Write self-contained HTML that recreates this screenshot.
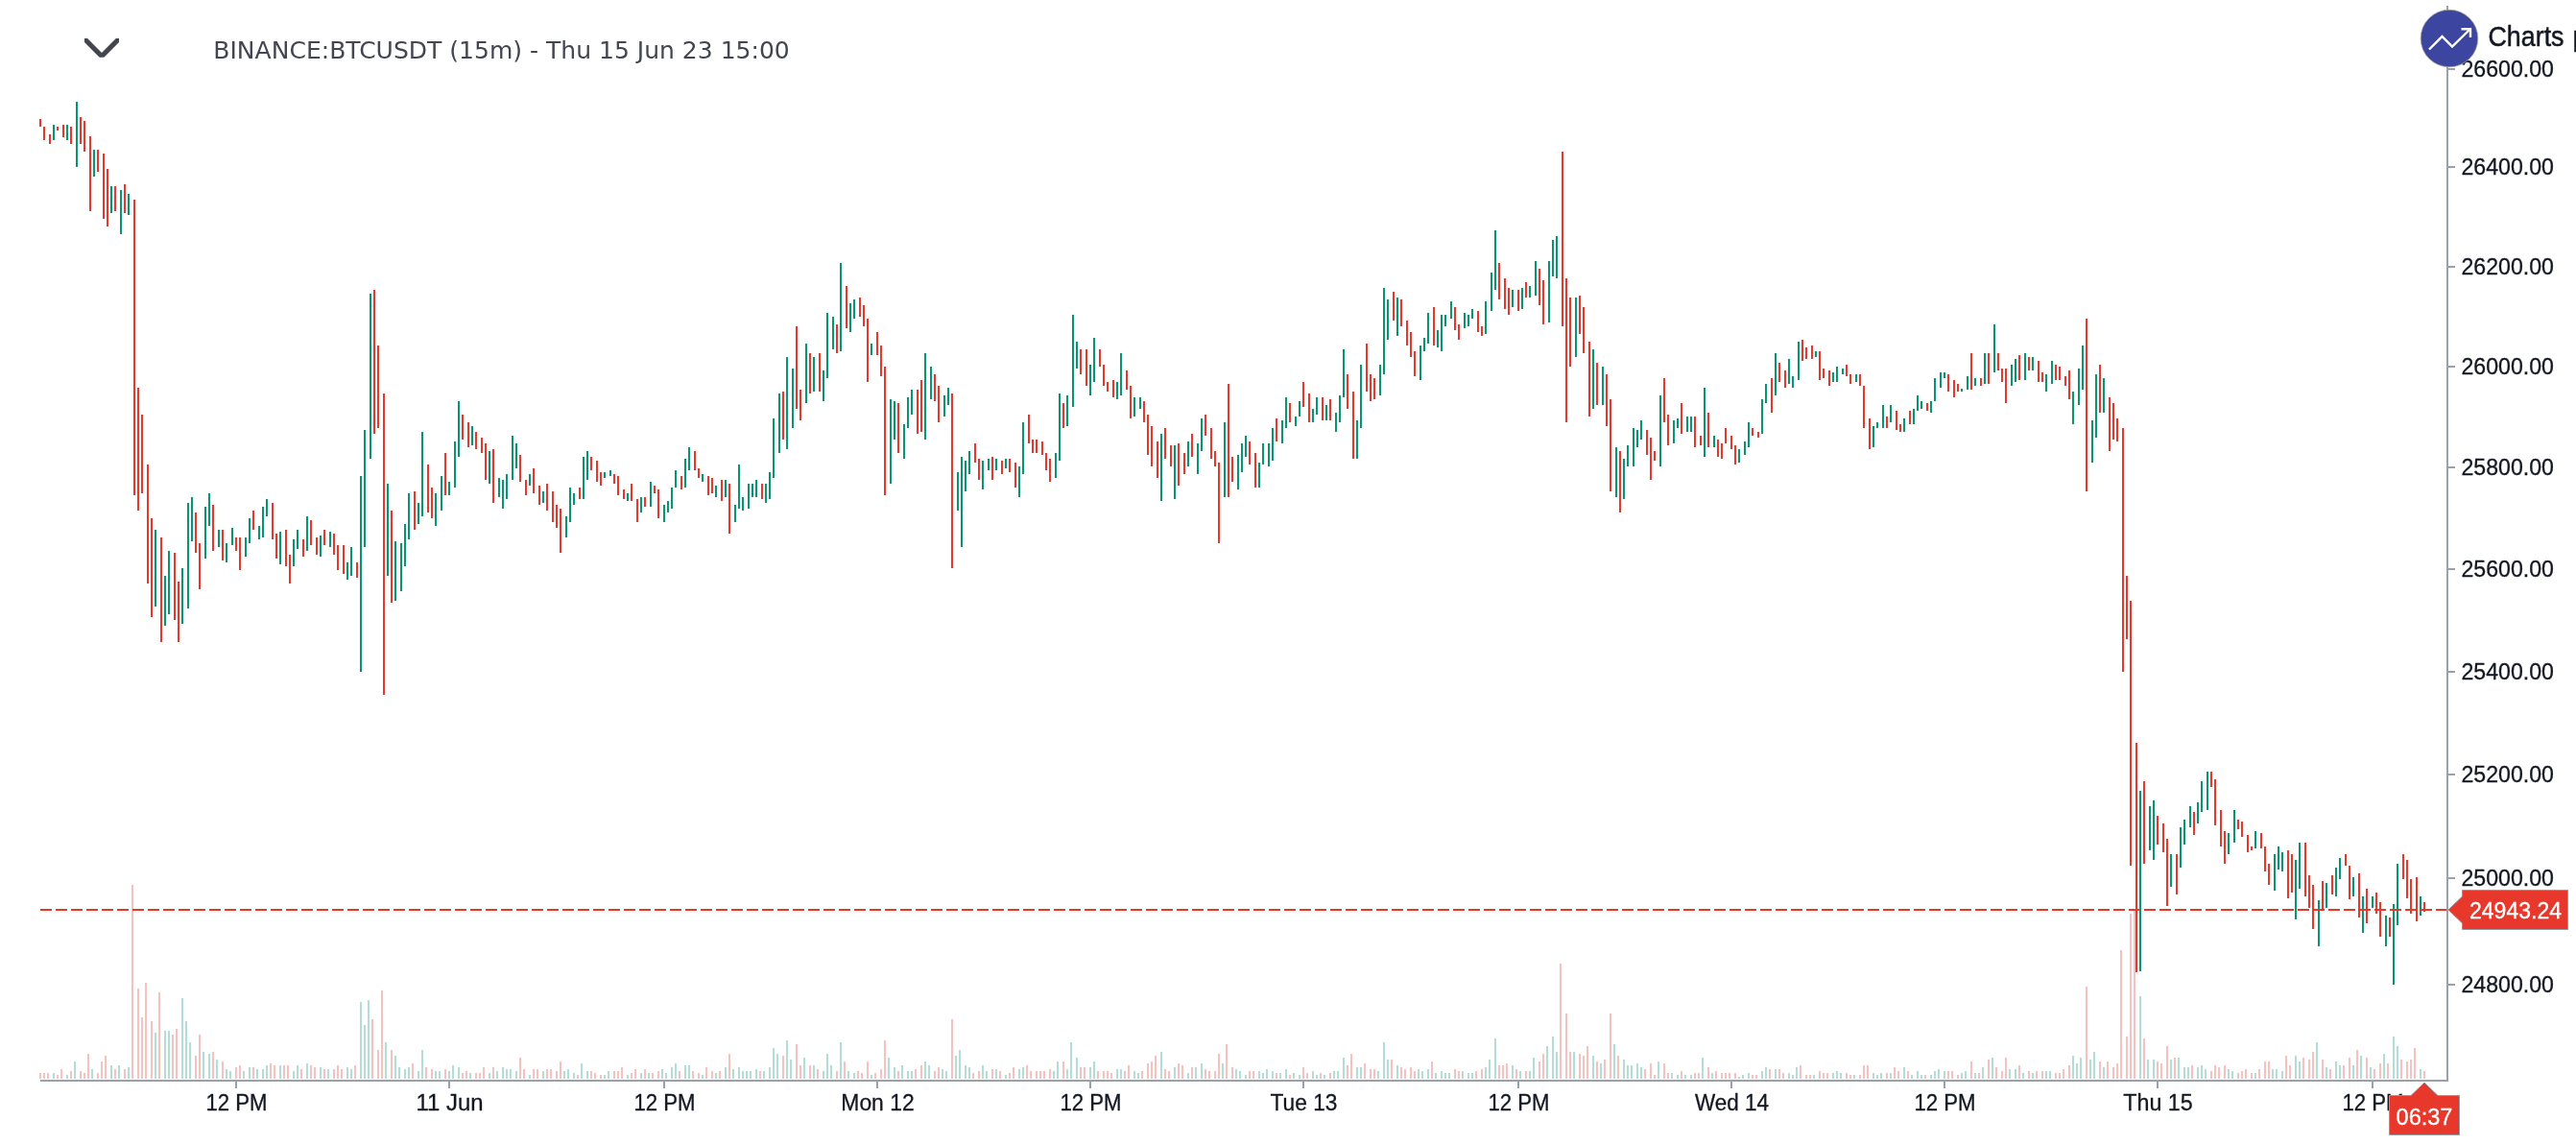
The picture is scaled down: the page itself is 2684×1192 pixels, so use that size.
<!DOCTYPE html>
<html><head><meta charset="utf-8"><title>BINANCE:BTCUSDT (15m)</title>
<style>
html,body{margin:0;padding:0;background:#fff;}
body{width:2684px;height:1192px;overflow:hidden;position:relative;}
svg{position:absolute;left:0;top:0;display:block;will-change:transform;}
.ax{font-family:"Liberation Sans",Arial,sans-serif;font-size:23.5px;fill:#131722;stroke:#131722;stroke-width:0.3px;}
.axw{font-family:"Liberation Sans",Arial,sans-serif;font-size:23.5px;fill:#fff;stroke:#fff;stroke-width:0.3px;}
.tt{font-family:"DejaVu Sans",Verdana,sans-serif;font-size:24px;fill:#434651;}
.lg{font-family:"Liberation Sans",Arial,sans-serif;font-size:29.3px;fill:#131722;stroke:#131722;stroke-width:0.5px;}
</style></head>
<body>
<svg width="2684" height="1192" viewBox="0 0 2684 1192" >
<path shape-rendering="crispEdges" fill="#f6c2c0" d="M41 1118h2v6h-2zM45 1118h2v6h-2zM49 1118h2v6h-2zM59 1120h2v4h-2zM63 1114h2v10h-2zM73 1116h2v8h-2zM83 1116h2v8h-2zM87 1118h2v6h-2zM91 1098h2v26h-2zM101 1118h2v6h-2zM105 1106h2v18h-2zM109 1100h2v24h-2zM119 1114h2v10h-2zM129 1114h2v10h-2zM137 922h2v202h-2zM143 1030h2v94h-2zM147 1060h2v64h-2zM151 1024h2v100h-2zM157 1064h2v60h-2zM165 1034h2v90h-2zM179 1078h2v46h-2zM183 1072h2v52h-2zM203 1100h2v24h-2zM207 1078h2v46h-2zM221 1096h2v28h-2zM231 1106h2v18h-2zM245 1112h2v12h-2zM249 1110h2v14h-2zM263 1112h2v12h-2zM281 1108h2v16h-2zM285 1110h2v14h-2zM295 1110h2v14h-2zM299 1110h2v14h-2zM313 1114h2v10h-2zM323 1110h2v14h-2zM327 1112h2v12h-2zM337 1114h2v10h-2zM347 1114h2v10h-2zM351 1110h2v14h-2zM355 1114h2v10h-2zM369 1110h2v14h-2zM387 1062h2v62h-2zM393 1094h2v30h-2zM397 1032h2v92h-2zM407 1094h2v30h-2zM429 1108h2v16h-2zM443 1112h2v12h-2zM449 1114h2v10h-2zM463 1114h2v10h-2zM481 1118h2v6h-2zM485 1116h2v8h-2zM495 1118h2v6h-2zM499 1118h2v6h-2zM503 1112h2v12h-2zM513 1112h2v12h-2zM541 1102h2v22h-2zM545 1114h2v10h-2zM555 1114h2v10h-2zM559 1114h2v10h-2zM569 1114h2v10h-2zM573 1114h2v10h-2zM579 1116h2v8h-2zM583 1106h2v18h-2zM601 1120h2v4h-2zM615 1116h2v8h-2zM619 1118h2v6h-2zM625 1120h2v4h-2zM639 1116h2v8h-2zM643 1116h2v8h-2zM647 1112h2v12h-2zM657 1118h2v6h-2zM661 1114h2v10h-2zM671 1114h2v10h-2zM679 1118h2v6h-2zM685 1116h2v8h-2zM707 1116h2v8h-2zM721 1116h2v8h-2zM727 1118h2v6h-2zM735 1112h2v12h-2zM741 1116h2v8h-2zM749 1116h2v8h-2zM759 1098h2v26h-2zM791 1116h2v8h-2zM815 1100h2v24h-2zM829 1088h2v36h-2zM833 1110h2v14h-2zM843 1110h2v14h-2zM851 1114h2v10h-2zM871 1116h2v8h-2zM879 1106h2v18h-2zM893 1116h2v8h-2zM897 1118h2v6h-2zM903 1106h2v18h-2zM911 1118h2v6h-2zM917 1114h2v10h-2zM921 1084h2v40h-2zM935 1116h2v8h-2zM953 1114h2v10h-2zM959 1110h2v14h-2zM973 1116h2v8h-2zM977 1112h2v12h-2zM991 1062h2v62h-2zM1013 1118h2v6h-2zM1019 1116h2v8h-2zM1033 1114h2v10h-2zM1041 1116h2v8h-2zM1051 1118h2v6h-2zM1055 1112h2v12h-2zM1069 1110h2v14h-2zM1073 1116h2v8h-2zM1079 1116h2v8h-2zM1083 1116h2v8h-2zM1087 1116h2v8h-2zM1093 1114h2v10h-2zM1107 1106h2v18h-2zM1125 1112h2v12h-2zM1129 1112h2v12h-2zM1143 1116h2v8h-2zM1149 1116h2v8h-2zM1153 1116h2v8h-2zM1157 1118h2v6h-2zM1171 1116h2v8h-2zM1175 1110h2v14h-2zM1189 1116h2v8h-2zM1195 1108h2v16h-2zM1199 1106h2v18h-2zM1203 1100h2v24h-2zM1213 1114h2v10h-2zM1217 1116h2v8h-2zM1227 1108h2v16h-2zM1231 1110h2v14h-2zM1241 1112h2v12h-2zM1255 1114h2v10h-2zM1259 1116h2v8h-2zM1265 1116h2v8h-2zM1269 1098h2v26h-2zM1277 1088h2v36h-2zM1283 1112h2v12h-2zM1301 1116h2v8h-2zM1305 1116h2v8h-2zM1329 1118h2v6h-2zM1343 1120h2v4h-2zM1357 1112h2v12h-2zM1361 1118h2v6h-2zM1375 1118h2v6h-2zM1385 1118h2v6h-2zM1403 1110h2v14h-2zM1407 1098h2v26h-2zM1421 1108h2v16h-2zM1427 1114h2v10h-2zM1431 1114h2v10h-2zM1449 1104h2v20h-2zM1459 1112h2v12h-2zM1463 1114h2v10h-2zM1469 1112h2v12h-2zM1473 1116h2v8h-2zM1491 1106h2v18h-2zM1515 1114h2v10h-2zM1519 1116h2v8h-2zM1537 1116h2v8h-2zM1543 1114h2v10h-2zM1561 1110h2v14h-2zM1565 1110h2v14h-2zM1569 1108h2v16h-2zM1579 1114h2v10h-2zM1589 1116h2v8h-2zM1603 1106h2v18h-2zM1607 1098h2v26h-2zM1625 1004h2v120h-2zM1631 1056h2v68h-2zM1635 1096h2v28h-2zM1645 1098h2v26h-2zM1649 1100h2v24h-2zM1653 1090h2v34h-2zM1663 1106h2v18h-2zM1671 1104h2v20h-2zM1677 1056h2v68h-2zM1685 1100h2v24h-2zM1713 1114h2v10h-2zM1719 1108h2v16h-2zM1723 1120h2v4h-2zM1733 1108h2v16h-2zM1737 1118h2v6h-2zM1751 1116h2v8h-2zM1765 1118h2v6h-2zM1769 1118h2v6h-2zM1779 1112h2v12h-2zM1787 1116h2v8h-2zM1793 1118h2v6h-2zM1797 1118h2v6h-2zM1801 1118h2v6h-2zM1807 1118h2v6h-2zM1825 1120h2v4h-2zM1829 1120h2v4h-2zM1843 1114h2v10h-2zM1853 1114h2v10h-2zM1857 1118h2v6h-2zM1875 1110h2v14h-2zM1881 1120h2v4h-2zM1885 1120h2v4h-2zM1895 1116h2v8h-2zM1899 1118h2v6h-2zM1903 1118h2v6h-2zM1923 1118h2v6h-2zM1927 1120h2v4h-2zM1937 1120h2v4h-2zM1941 1110h2v14h-2zM1945 1110h2v14h-2zM1965 1118h2v6h-2zM1973 1112h2v12h-2zM1977 1116h2v8h-2zM1987 1116h2v8h-2zM2005 1120h2v4h-2zM2029 1116h2v8h-2zM2033 1116h2v8h-2zM2039 1120h2v4h-2zM2053 1106h2v18h-2zM2061 1118h2v6h-2zM2071 1104h2v20h-2zM2079 1112h2v12h-2zM2085 1116h2v8h-2zM2089 1102h2v22h-2zM2103 1110h2v14h-2zM2113 1116h2v8h-2zM2121 1116h2v8h-2zM2127 1116h2v8h-2zM2141 1118h2v6h-2zM2145 1118h2v6h-2zM2149 1114h2v10h-2zM2155 1110h2v14h-2zM2173 1028h2v96h-2zM2187 1106h2v18h-2zM2195 1106h2v18h-2zM2201 1112h2v12h-2zM2205 1108h2v16h-2zM2209 990h2v134h-2zM2215 1080h2v44h-2zM2219 952h2v172h-2zM2223 949h2v175h-2zM2233 1082h2v42h-2zM2247 1106h2v18h-2zM2251 1108h2v16h-2zM2257 1090h2v34h-2zM2265 1102h2v22h-2zM2283 1110h2v14h-2zM2303 1116h2v8h-2zM2307 1110h2v14h-2zM2311 1112h2v12h-2zM2317 1110h2v14h-2zM2331 1118h2v6h-2zM2335 1116h2v8h-2zM2339 1114h2v10h-2zM2345 1118h2v6h-2zM2353 1114h2v10h-2zM2359 1106h2v18h-2zM2363 1106h2v18h-2zM2381 1100h2v24h-2zM2385 1110h2v14h-2zM2399 1102h2v22h-2zM2405 1104h2v20h-2zM2409 1096h2v28h-2zM2419 1104h2v20h-2zM2427 1114h2v10h-2zM2441 1110h2v14h-2zM2447 1102h2v22h-2zM2455 1094h2v30h-2zM2465 1102h2v22h-2zM2473 1114h2v10h-2zM2479 1108h2v16h-2zM2487 1108h2v16h-2zM2501 1104h2v20h-2zM2507 1106h2v18h-2zM2511 1104h2v20h-2zM2515 1092h2v32h-2zM2525 1116h2v8h-2z"/>
<path shape-rendering="crispEdges" fill="#b3ded5" d="M55 1118h2v6h-2zM69 1120h2v4h-2zM77 1106h2v18h-2zM95 1114h2v10h-2zM115 1110h2v14h-2zM123 1110h2v14h-2zM133 1112h2v12h-2zM161 1076h2v48h-2zM171 1074h2v50h-2zM175 1074h2v50h-2zM189 1040h2v84h-2zM193 1064h2v60h-2zM197 1086h2v38h-2zM211 1096h2v28h-2zM217 1098h2v26h-2zM225 1104h2v20h-2zM235 1114h2v10h-2zM239 1116h2v8h-2zM253 1116h2v8h-2zM259 1112h2v12h-2zM267 1114h2v10h-2zM273 1114h2v10h-2zM277 1110h2v14h-2zM291 1110h2v14h-2zM305 1116h2v8h-2zM309 1110h2v14h-2zM319 1108h2v16h-2zM333 1112h2v12h-2zM341 1114h2v10h-2zM361 1112h2v12h-2zM365 1114h2v10h-2zM375 1044h2v80h-2zM379 1068h2v56h-2zM383 1042h2v82h-2zM401 1086h2v38h-2zM411 1100h2v24h-2zM415 1112h2v12h-2zM421 1114h2v10h-2zM425 1112h2v12h-2zM435 1116h2v8h-2zM439 1094h2v30h-2zM453 1116h2v8h-2zM457 1116h2v8h-2zM467 1116h2v8h-2zM471 1110h2v14h-2zM477 1112h2v12h-2zM489 1118h2v6h-2zM509 1118h2v6h-2zM517 1116h2v8h-2zM523 1112h2v12h-2zM527 1114h2v10h-2zM531 1114h2v10h-2zM537 1116h2v8h-2zM551 1120h2v4h-2zM565 1116h2v8h-2zM587 1116h2v8h-2zM591 1114h2v10h-2zM597 1118h2v6h-2zM605 1108h2v16h-2zM611 1116h2v8h-2zM629 1120h2v4h-2zM633 1116h2v8h-2zM653 1120h2v4h-2zM667 1118h2v6h-2zM675 1118h2v6h-2zM689 1114h2v10h-2zM693 1118h2v6h-2zM699 1112h2v12h-2zM703 1108h2v16h-2zM713 1110h2v14h-2zM717 1110h2v14h-2zM731 1120h2v4h-2zM745 1118h2v6h-2zM755 1112h2v12h-2zM763 1114h2v10h-2zM769 1112h2v12h-2zM773 1116h2v8h-2zM777 1116h2v8h-2zM781 1116h2v8h-2zM787 1114h2v10h-2zM795 1116h2v8h-2zM801 1112h2v12h-2zM805 1092h2v32h-2zM809 1098h2v26h-2zM819 1084h2v40h-2zM823 1104h2v20h-2zM837 1102h2v22h-2zM847 1110h2v14h-2zM857 1116h2v8h-2zM861 1098h2v26h-2zM865 1110h2v14h-2zM875 1086h2v38h-2zM883 1116h2v8h-2zM889 1118h2v6h-2zM907 1120h2v4h-2zM925 1102h2v22h-2zM931 1112h2v12h-2zM939 1110h2v14h-2zM945 1116h2v8h-2zM949 1116h2v8h-2zM963 1106h2v18h-2zM967 1110h2v14h-2zM981 1114h2v10h-2zM985 1116h2v8h-2zM995 1100h2v24h-2zM999 1094h2v30h-2zM1005 1110h2v14h-2zM1009 1112h2v12h-2zM1023 1110h2v14h-2zM1027 1116h2v8h-2zM1037 1114h2v10h-2zM1047 1120h2v4h-2zM1061 1114h2v10h-2zM1065 1112h2v12h-2zM1097 1116h2v8h-2zM1101 1106h2v18h-2zM1111 1114h2v10h-2zM1115 1086h2v38h-2zM1121 1102h2v22h-2zM1135 1112h2v12h-2zM1139 1106h2v18h-2zM1163 1114h2v10h-2zM1167 1114h2v10h-2zM1181 1116h2v8h-2zM1185 1118h2v6h-2zM1209 1096h2v28h-2zM1223 1112h2v12h-2zM1237 1118h2v6h-2zM1245 1112h2v12h-2zM1251 1108h2v16h-2zM1273 1108h2v16h-2zM1287 1114h2v10h-2zM1291 1116h2v8h-2zM1297 1120h2v4h-2zM1311 1116h2v8h-2zM1315 1118h2v6h-2zM1319 1114h2v10h-2zM1325 1116h2v8h-2zM1333 1118h2v6h-2zM1339 1114h2v10h-2zM1347 1118h2v6h-2zM1353 1120h2v4h-2zM1367 1116h2v8h-2zM1371 1120h2v4h-2zM1379 1120h2v4h-2zM1389 1116h2v8h-2zM1393 1116h2v8h-2zM1399 1102h2v22h-2zM1413 1112h2v12h-2zM1417 1112h2v12h-2zM1435 1116h2v8h-2zM1441 1086h2v38h-2zM1445 1104h2v20h-2zM1455 1110h2v14h-2zM1477 1114h2v10h-2zM1481 1116h2v8h-2zM1487 1114h2v10h-2zM1495 1118h2v6h-2zM1501 1116h2v8h-2zM1505 1118h2v6h-2zM1509 1118h2v6h-2zM1523 1116h2v8h-2zM1529 1118h2v6h-2zM1533 1118h2v6h-2zM1547 1112h2v12h-2zM1551 1104h2v20h-2zM1557 1082h2v42h-2zM1575 1110h2v14h-2zM1583 1116h2v8h-2zM1593 1116h2v8h-2zM1597 1102h2v22h-2zM1611 1090h2v34h-2zM1617 1080h2v44h-2zM1621 1096h2v28h-2zM1639 1096h2v28h-2zM1659 1100h2v24h-2zM1667 1108h2v16h-2zM1681 1088h2v36h-2zM1691 1104h2v20h-2zM1695 1110h2v14h-2zM1699 1110h2v14h-2zM1705 1108h2v16h-2zM1709 1112h2v12h-2zM1727 1106h2v18h-2zM1741 1118h2v6h-2zM1747 1120h2v4h-2zM1755 1120h2v4h-2zM1761 1120h2v4h-2zM1773 1102h2v22h-2zM1783 1118h2v6h-2zM1811 1122h2v2h-2zM1815 1120h2v4h-2zM1821 1118h2v6h-2zM1835 1116h2v8h-2zM1839 1112h2v12h-2zM1849 1114h2v10h-2zM1863 1118h2v6h-2zM1867 1120h2v4h-2zM1871 1112h2v12h-2zM1889 1120h2v4h-2zM1909 1118h2v6h-2zM1913 1116h2v8h-2zM1917 1118h2v6h-2zM1931 1120h2v4h-2zM1951 1118h2v6h-2zM1955 1120h2v4h-2zM1959 1118h2v6h-2zM1969 1118h2v6h-2zM1983 1112h2v12h-2zM1991 1120h2v4h-2zM1997 1116h2v8h-2zM2001 1120h2v4h-2zM2011 1120h2v4h-2zM2015 1116h2v8h-2zM2019 1114h2v10h-2zM2025 1116h2v8h-2zM2043 1118h2v6h-2zM2047 1116h2v8h-2zM2057 1118h2v6h-2zM2065 1112h2v12h-2zM2075 1102h2v22h-2zM2093 1114h2v10h-2zM2099 1114h2v10h-2zM2107 1118h2v6h-2zM2117 1118h2v6h-2zM2131 1116h2v8h-2zM2135 1116h2v8h-2zM2159 1100h2v24h-2zM2163 1108h2v16h-2zM2167 1102h2v22h-2zM2177 1104h2v20h-2zM2181 1096h2v28h-2zM2191 1112h2v12h-2zM2229 1038h2v86h-2zM2237 1104h2v20h-2zM2243 1104h2v20h-2zM2261 1104h2v20h-2zM2269 1102h2v22h-2zM2275 1112h2v12h-2zM2279 1112h2v12h-2zM2289 1112h2v12h-2zM2293 1110h2v14h-2zM2297 1114h2v10h-2zM2321 1114h2v10h-2zM2325 1116h2v8h-2zM2349 1118h2v6h-2zM2367 1114h2v10h-2zM2371 1114h2v10h-2zM2377 1116h2v8h-2zM2391 1100h2v24h-2zM2395 1106h2v18h-2zM2413 1086h2v38h-2zM2423 1112h2v12h-2zM2433 1106h2v18h-2zM2437 1110h2v14h-2zM2451 1110h2v14h-2zM2459 1100h2v24h-2zM2469 1112h2v12h-2zM2483 1098h2v26h-2zM2493 1080h2v44h-2zM2497 1090h2v34h-2zM2521 1114h2v10h-2z"/>
<path shape-rendering="crispEdges" fill="#e8382b" d="M41 124h2v8h-2zM45 132h2v14h-2zM51 140h2v10h-2zM59 132h2v4h-2zM65 130h2v13h-2zM73 132h2v18h-2zM83 122h2v28h-2zM87 126h2v32h-2zM93 142h2v78h-2zM101 156h2v23h-2zM107 160h2v68h-2zM111 176h2v60h-2zM119 194h2v26h-2zM129 192h2v30h-2zM139 208h2v308h-2zM143 404h2v128h-2zM147 432h2v82h-2zM153 484h2v124h-2zM157 540h2v103h-2zM167 560h2v109h-2zM181 576h2v70h-2zM185 606h2v63h-2zM203 534h2v42h-2zM207 566h2v48h-2zM221 526h2v48h-2zM231 552h2v32h-2zM245 560h2v14h-2zM249 560h2v34h-2zM263 532h2v20h-2zM283 524h2v38h-2zM287 556h2v26h-2zM297 552h2v38h-2zM301 578h2v30h-2zM315 562h2v18h-2zM323 542h2v26h-2zM329 560h2v18h-2zM337 552h2v16h-2zM347 556h2v22h-2zM351 568h2v26h-2zM357 568h2v30h-2zM371 586h2v16h-2zM389 302h2v150h-2zM393 360h2v86h-2zM399 410h2v314h-2zM407 532h2v96h-2zM431 512h2v40h-2zM445 484h2v50h-2zM449 508h2v32h-2zM463 472h2v44h-2zM481 432h2v26h-2zM487 440h2v26h-2zM495 450h2v18h-2zM501 456h2v16h-2zM505 462h2v38h-2zM513 468h2v56h-2zM541 474h2v28h-2zM547 500h2v16h-2zM555 488h2v26h-2zM561 506h2v20h-2zM569 504h2v28h-2zM575 512h2v32h-2zM579 526h2v24h-2zM583 530h2v46h-2zM603 508h2v12h-2zM615 476h2v14h-2zM621 480h2v22h-2zM625 492h2v14h-2zM639 494h2v10h-2zM643 496h2v20h-2zM649 510h2v10h-2zM657 504h2v18h-2zM663 520h2v24h-2zM671 518h2v10h-2zM681 506h2v8h-2zM685 510h2v30h-2zM709 496h2v14h-2zM723 470h2v20h-2zM727 488h2v10h-2zM737 496h2v20h-2zM741 498h2v16h-2zM751 500h2v22h-2zM759 504h2v52h-2zM793 504h2v16h-2zM815 408h2v50h-2zM829 340h2v86h-2zM833 406h2v32h-2zM843 368h2v42h-2zM853 368h2v40h-2zM871 338h2v30h-2zM881 298h2v44h-2zM895 310h2v20h-2zM899 318h2v22h-2zM903 332h2v66h-2zM913 346h2v24h-2zM917 360h2v32h-2zM921 382h2v134h-2zM935 420h2v52h-2zM955 406h2v46h-2zM959 396h2v54h-2zM973 390h2v28h-2zM977 402h2v38h-2zM991 410h2v182h-2zM1015 462h2v20h-2zM1019 478h2v22h-2zM1033 476h2v24h-2zM1043 480h2v14h-2zM1051 478h2v14h-2zM1057 482h2v26h-2zM1071 432h2v30h-2zM1075 458h2v14h-2zM1079 458h2v14h-2zM1085 460h2v14h-2zM1089 472h2v18h-2zM1093 478h2v24h-2zM1107 420h2v26h-2zM1125 364h2v26h-2zM1131 364h2v38h-2zM1145 364h2v18h-2zM1149 380h2v22h-2zM1153 398h2v10h-2zM1159 396h2v18h-2zM1173 386h2v20h-2zM1177 402h2v34h-2zM1191 418h2v22h-2zM1195 432h2v42h-2zM1199 444h2v42h-2zM1205 460h2v38h-2zM1213 446h2v32h-2zM1219 464h2v22h-2zM1227 462h2v44h-2zM1233 472h2v22h-2zM1241 452h2v24h-2zM1255 432h2v22h-2zM1261 446h2v32h-2zM1265 470h2v16h-2zM1269 482h2v84h-2zM1279 400h2v118h-2zM1283 476h2v26h-2zM1301 460h2v24h-2zM1307 472h2v36h-2zM1329 436h2v24h-2zM1343 420h2v20h-2zM1357 398h2v26h-2zM1363 410h2v30h-2zM1377 414h2v24h-2zM1385 416h2v22h-2zM1403 390h2v36h-2zM1409 408h2v70h-2zM1423 358h2v50h-2zM1427 390h2v28h-2zM1431 394h2v22h-2zM1451 304h2v30h-2zM1459 312h2v28h-2zM1465 334h2v26h-2zM1469 346h2v26h-2zM1473 366h2v26h-2zM1493 320h2v40h-2zM1515 320h2v24h-2zM1519 338h2v16h-2zM1539 324h2v22h-2zM1543 340h2v10h-2zM1561 274h2v38h-2zM1567 290h2v32h-2zM1571 300h2v28h-2zM1581 302h2v22h-2zM1589 294h2v16h-2zM1603 280h2v38h-2zM1607 292h2v46h-2zM1627 158h2v182h-2zM1631 290h2v150h-2zM1635 310h2v72h-2zM1645 308h2v40h-2zM1649 320h2v48h-2zM1655 356h2v78h-2zM1663 378h2v44h-2zM1673 390h2v54h-2zM1677 416h2v96h-2zM1687 470h2v64h-2zM1715 448h2v26h-2zM1719 456h2v44h-2zM1723 470h2v10h-2zM1733 394h2v46h-2zM1737 432h2v32h-2zM1751 420h2v32h-2zM1765 434h2v32h-2zM1771 454h2v10h-2zM1779 430h2v36h-2zM1789 458h2v18h-2zM1793 462h2v16h-2zM1797 446h2v16h-2zM1803 454h2v14h-2zM1807 464h2v20h-2zM1825 446h2v8h-2zM1831 450h2v6h-2zM1845 394h2v36h-2zM1853 378h2v20h-2zM1859 386h2v18h-2zM1877 354h2v22h-2zM1881 362h2v12h-2zM1887 360h2v14h-2zM1895 366h2v30h-2zM1899 384h2v10h-2zM1905 386h2v16h-2zM1923 380h2v12h-2zM1927 390h2v10h-2zM1937 390h2v12h-2zM1941 402h2v44h-2zM1947 436h2v32h-2zM1965 434h2v12h-2zM1975 428h2v20h-2zM1979 442h2v8h-2zM1989 428h2v14h-2zM2007 420h2v8h-2zM2029 390h2v18h-2zM2035 396h2v18h-2zM2039 400h2v8h-2zM2053 368h2v38h-2zM2063 394h2v8h-2zM2071 368h2v32h-2zM2081 368h2v18h-2zM2085 384h2v14h-2zM2089 384h2v36h-2zM2103 370h2v26h-2zM2113 372h2v14h-2zM2123 376h2v22h-2zM2127 388h2v10h-2zM2141 380h2v16h-2zM2145 382h2v14h-2zM2151 392h2v10h-2zM2155 386h2v30h-2zM2173 332h2v180h-2zM2187 380h2v50h-2zM2197 414h2v56h-2zM2201 420h2v38h-2zM2205 436h2v24h-2zM2211 446h2v254h-2zM2215 600h2v66h-2zM2219 626h2v276h-2zM2225 774h2v239h-2zM2233 814h2v86h-2zM2247 850h2v30h-2zM2253 858h2v30h-2zM2257 874h2v70h-2zM2267 890h2v42h-2zM2285 846h2v24h-2zM2303 804h2v16h-2zM2307 812h2v48h-2zM2313 844h2v38h-2zM2317 866h2v34h-2zM2331 854h2v10h-2zM2335 856h2v16h-2zM2341 870h2v18h-2zM2345 882h2v4h-2zM2355 868h2v16h-2zM2359 882h2v26h-2zM2363 900h2v22h-2zM2383 886h2v50h-2zM2387 890h2v40h-2zM2401 878h2v56h-2zM2405 912h2v34h-2zM2409 922h2v46h-2zM2419 918h2v29h-2zM2429 912h2v20h-2zM2443 890h2v12h-2zM2447 902h2v35h-2zM2457 910h2v46h-2zM2465 926h2v36h-2zM2475 930h2v22h-2zM2479 940h2v36h-2zM2489 956h2v20h-2zM2503 890h2v26h-2zM2507 896h2v40h-2zM2511 916h2v36h-2zM2517 914h2v46h-2zM2525 940h2v10h-2z"/>
<path shape-rendering="crispEdges" fill="#079574" d="M55 130h2v16h-2zM69 130h2v16h-2zM79 106h2v68h-2zM97 156h2v28h-2zM115 194h2v28h-2zM125 198h2v46h-2zM133 202h2v22h-2zM161 552h2v80h-2zM171 600h2v52h-2zM175 574h2v66h-2zM189 592h2v58h-2zM195 524h2v110h-2zM199 518h2v46h-2zM213 528h2v54h-2zM217 514h2v34h-2zM227 552h2v18h-2zM235 566h2v20h-2zM241 550h2v18h-2zM255 560h2v20h-2zM259 540h2v26h-2zM269 548h2v14h-2zM273 528h2v32h-2zM277 520h2v18h-2zM291 554h2v34h-2zM305 562h2v28h-2zM309 552h2v20h-2zM319 538h2v36h-2zM333 558h2v22h-2zM343 554h2v16h-2zM361 586h2v18h-2zM365 570h2v30h-2zM375 496h2v204h-2zM379 448h2v122h-2zM385 306h2v172h-2zM403 504h2v96h-2zM411 564h2v62h-2zM417 566h2v50h-2zM421 546h2v44h-2zM425 514h2v48h-2zM435 524h2v22h-2zM439 450h2v88h-2zM453 514h2v34h-2zM459 496h2v36h-2zM467 502h2v14h-2zM473 460h2v48h-2zM477 418h2v58h-2zM491 444h2v20h-2zM509 470h2v34h-2zM519 498h2v20h-2zM523 500h2v30h-2zM527 494h2v26h-2zM533 454h2v46h-2zM537 462h2v26h-2zM551 494h2v12h-2zM565 512h2v12h-2zM589 538h2v22h-2zM593 508h2v36h-2zM597 514h2v12h-2zM607 476h2v44h-2zM611 470h2v30h-2zM629 492h2v6h-2zM635 490h2v6h-2zM653 514h2v8h-2zM667 518h2v16h-2zM677 502h2v26h-2zM691 526h2v18h-2zM695 522h2v12h-2zM699 508h2v22h-2zM703 490h2v18h-2zM713 478h2v30h-2zM717 466h2v24h-2zM731 494h2v8h-2zM745 506h2v12h-2zM755 500h2v18h-2zM765 526h2v18h-2zM769 484h2v46h-2zM773 518h2v14h-2zM779 504h2v26h-2zM783 504h2v14h-2zM787 500h2v18h-2zM797 504h2v20h-2zM801 492h2v28h-2zM805 436h2v62h-2zM811 410h2v62h-2zM819 372h2v96h-2zM825 384h2v62h-2zM839 358h2v62h-2zM847 372h2v36h-2zM857 386h2v32h-2zM861 326h2v68h-2zM867 330h2v34h-2zM875 274h2v92h-2zM885 316h2v30h-2zM889 312h2v20h-2zM907 358h2v12h-2zM927 416h2v88h-2zM931 418h2v40h-2zM941 442h2v36h-2zM945 414h2v32h-2zM949 406h2v26h-2zM963 368h2v90h-2zM969 382h2v34h-2zM983 412h2v22h-2zM987 404h2v18h-2zM997 492h2v40h-2zM1001 476h2v94h-2zM1005 480h2v32h-2zM1009 470h2v24h-2zM1023 480h2v30h-2zM1029 478h2v12h-2zM1037 478h2v12h-2zM1047 478h2v10h-2zM1061 486h2v32h-2zM1065 440h2v54h-2zM1099 472h2v26h-2zM1103 410h2v70h-2zM1111 412h2v32h-2zM1117 328h2v96h-2zM1121 356h2v28h-2zM1135 380h2v32h-2zM1139 352h2v46h-2zM1163 398h2v18h-2zM1167 368h2v44h-2zM1181 414h2v20h-2zM1187 414h2v12h-2zM1209 452h2v70h-2zM1223 464h2v56h-2zM1237 460h2v26h-2zM1247 462h2v32h-2zM1251 436h2v34h-2zM1275 440h2v78h-2zM1289 474h2v36h-2zM1293 462h2v30h-2zM1297 454h2v22h-2zM1311 482h2v26h-2zM1315 462h2v22h-2zM1321 462h2v24h-2zM1325 446h2v34h-2zM1335 438h2v24h-2zM1339 414h2v32h-2zM1349 434h2v10h-2zM1353 418h2v16h-2zM1367 426h2v14h-2zM1371 414h2v18h-2zM1381 422h2v16h-2zM1391 430h2v20h-2zM1395 412h2v28h-2zM1399 364h2v50h-2zM1413 438h2v40h-2zM1417 380h2v66h-2zM1437 380h2v32h-2zM1441 300h2v90h-2zM1445 312h2v42h-2zM1455 310h2v40h-2zM1479 360h2v36h-2zM1483 352h2v14h-2zM1487 326h2v32h-2zM1497 344h2v18h-2zM1501 328h2v38h-2zM1505 328h2v12h-2zM1511 314h2v18h-2zM1525 326h2v16h-2zM1529 328h2v12h-2zM1533 322h2v10h-2zM1547 314h2v34h-2zM1553 284h2v40h-2zM1557 240h2v62h-2zM1575 302h2v18h-2zM1585 300h2v22h-2zM1593 298h2v12h-2zM1599 272h2v36h-2zM1613 272h2v64h-2zM1617 250h2v38h-2zM1621 246h2v44h-2zM1641 310h2v62h-2zM1659 364h2v62h-2zM1669 382h2v40h-2zM1683 466h2v52h-2zM1691 478h2v42h-2zM1695 464h2v22h-2zM1701 446h2v40h-2zM1705 448h2v18h-2zM1709 438h2v20h-2zM1729 412h2v74h-2zM1743 438h2v24h-2zM1747 436h2v10h-2zM1757 434h2v16h-2zM1761 434h2v16h-2zM1775 404h2v72h-2zM1785 454h2v12h-2zM1811 468h2v14h-2zM1817 460h2v14h-2zM1821 440h2v26h-2zM1835 416h2v36h-2zM1839 400h2v20h-2zM1849 368h2v44h-2zM1863 374h2v26h-2zM1867 392h2v12h-2zM1873 356h2v40h-2zM1891 366h2v6h-2zM1909 388h2v10h-2zM1913 382h2v16h-2zM1919 384h2v6h-2zM1933 390h2v8h-2zM1951 444h2v22h-2zM1955 440h2v6h-2zM1961 422h2v24h-2zM1969 422h2v18h-2zM1983 436h2v14h-2zM1993 426h2v16h-2zM1997 412h2v16h-2zM2001 418h2v8h-2zM2011 418h2v12h-2zM2015 394h2v24h-2zM2021 388h2v16h-2zM2025 388h2v6h-2zM2043 405h2v3h-2zM2049 392h2v14h-2zM2057 394h2v8h-2zM2067 368h2v32h-2zM2077 338h2v50h-2zM2095 380h2v22h-2zM2099 374h2v24h-2zM2109 368h2v28h-2zM2117 372h2v14h-2zM2131 390h2v18h-2zM2137 376h2v24h-2zM2159 408h2v34h-2zM2165 384h2v38h-2zM2169 360h2v46h-2zM2179 438h2v44h-2zM2183 390h2v66h-2zM2191 394h2v36h-2zM2229 824h2v188h-2zM2239 840h2v46h-2zM2243 834h2v62h-2zM2261 890h2v34h-2zM2271 862h2v42h-2zM2275 854h2v26h-2zM2281 840h2v22h-2zM2289 836h2v22h-2zM2293 814h2v32h-2zM2299 804h2v40h-2zM2321 868h2v22h-2zM2327 844h2v34h-2zM2349 866h2v18h-2zM2369 890h2v38h-2zM2373 882h2v24h-2zM2377 888h2v20h-2zM2391 896h2v62h-2zM2395 878h2v48h-2zM2415 938h2v48h-2zM2423 920h2v26h-2zM2433 904h2v30h-2zM2437 894h2v22h-2zM2451 914h2v20h-2zM2461 934h2v38h-2zM2471 934h2v12h-2zM2485 954h2v32h-2zM2493 942h2v84h-2zM2497 900h2v64h-2zM2521 934h2v20h-2z"/>
<line x1="42" y1="948" x2="2549" y2="948" stroke="#e8382b" stroke-width="2" stroke-dasharray="12 4" shape-rendering="crispEdges"/>
<rect x="2549" y="6" width="2" height="1121" fill="#9aa1ab"/>
<rect x="42" y="1125" width="2509" height="2" fill="#9aa1ab"/>
<rect x="2551" y="71" width="7" height="2" fill="#9aa1ab"/>
<text x="2564.5" y="79.8" class="ax" textLength="96.5" lengthAdjust="spacingAndGlyphs">26600.00</text>
<rect x="2551" y="173" width="7" height="2" fill="#9aa1ab"/>
<text x="2564.5" y="181.8" class="ax" textLength="96.5" lengthAdjust="spacingAndGlyphs">26400.00</text>
<rect x="2551" y="277" width="7" height="2" fill="#9aa1ab"/>
<text x="2564.5" y="285.8" class="ax" textLength="96.5" lengthAdjust="spacingAndGlyphs">26200.00</text>
<rect x="2551" y="381" width="7" height="2" fill="#9aa1ab"/>
<text x="2564.5" y="389.8" class="ax" textLength="96.5" lengthAdjust="spacingAndGlyphs">26000.00</text>
<rect x="2551" y="486" width="7" height="2" fill="#9aa1ab"/>
<text x="2564.5" y="494.8" class="ax" textLength="96.5" lengthAdjust="spacingAndGlyphs">25800.00</text>
<rect x="2551" y="592" width="7" height="2" fill="#9aa1ab"/>
<text x="2564.5" y="600.8" class="ax" textLength="96.5" lengthAdjust="spacingAndGlyphs">25600.00</text>
<rect x="2551" y="699" width="7" height="2" fill="#9aa1ab"/>
<text x="2564.5" y="707.8" class="ax" textLength="96.5" lengthAdjust="spacingAndGlyphs">25400.00</text>
<rect x="2551" y="806" width="7" height="2" fill="#9aa1ab"/>
<text x="2564.5" y="814.8" class="ax" textLength="96.5" lengthAdjust="spacingAndGlyphs">25200.00</text>
<rect x="2551" y="914" width="7" height="2" fill="#9aa1ab"/>
<text x="2564.5" y="922.8" class="ax" textLength="96.5" lengthAdjust="spacingAndGlyphs">25000.00</text>
<rect x="2551" y="1025" width="7" height="2" fill="#9aa1ab"/>
<text x="2564.5" y="1033.8" class="ax" textLength="96.5" lengthAdjust="spacingAndGlyphs">24800.00</text>
<rect x="245" y="1127" width="2" height="7" fill="#9aa1ab"/>
<text x="246.5" y="1157" class="ax" text-anchor="middle" textLength="64.1" lengthAdjust="spacingAndGlyphs">12 PM</text>
<rect x="467" y="1127" width="2" height="7" fill="#9aa1ab"/>
<text x="468.5" y="1157" class="ax" text-anchor="middle" textLength="70.1" lengthAdjust="spacingAndGlyphs">11 Jun</text>
<rect x="691" y="1127" width="2" height="7" fill="#9aa1ab"/>
<text x="692.5" y="1157" class="ax" text-anchor="middle" textLength="64.1" lengthAdjust="spacingAndGlyphs">12 PM</text>
<rect x="913" y="1127" width="2" height="7" fill="#9aa1ab"/>
<text x="914.5" y="1157" class="ax" text-anchor="middle" textLength="76.4" lengthAdjust="spacingAndGlyphs">Mon 12</text>
<rect x="1135" y="1127" width="2" height="7" fill="#9aa1ab"/>
<text x="1136.5" y="1157" class="ax" text-anchor="middle" textLength="64.1" lengthAdjust="spacingAndGlyphs">12 PM</text>
<rect x="1357" y="1127" width="2" height="7" fill="#9aa1ab"/>
<text x="1358.5" y="1157" class="ax" text-anchor="middle" textLength="70.0" lengthAdjust="spacingAndGlyphs">Tue 13</text>
<rect x="1581" y="1127" width="2" height="7" fill="#9aa1ab"/>
<text x="1582.5" y="1157" class="ax" text-anchor="middle" textLength="64.1" lengthAdjust="spacingAndGlyphs">12 PM</text>
<rect x="1803" y="1127" width="2" height="7" fill="#9aa1ab"/>
<text x="1804.5" y="1157" class="ax" text-anchor="middle" textLength="77.1" lengthAdjust="spacingAndGlyphs">Wed 14</text>
<rect x="2025" y="1127" width="2" height="7" fill="#9aa1ab"/>
<text x="2026.5" y="1157" class="ax" text-anchor="middle" textLength="64.1" lengthAdjust="spacingAndGlyphs">12 PM</text>
<rect x="2247" y="1127" width="2" height="7" fill="#9aa1ab"/>
<text x="2248.5" y="1157" class="ax" text-anchor="middle" textLength="72.5" lengthAdjust="spacingAndGlyphs">Thu 15</text>
<rect x="2471" y="1127" width="2" height="7" fill="#9aa1ab"/>
<text x="2472.5" y="1157" class="ax" text-anchor="middle" textLength="64.1" lengthAdjust="spacingAndGlyphs">12 PM</text>
<path d="M2551 948 L2565.5 934 L2565.5 927.5 L2675.5 927.5 L2675.5 968.5 L2565.5 968.5 L2565.5 962 Z" fill="#e8382b" stroke="#8d9ba6" stroke-width="1"/>
<text x="2573" y="957" class="axw" textLength="96" lengthAdjust="spacingAndGlyphs">24943.24</text>
<path d="M2526 1128 L2540 1141.5 L2562.5 1141.5 L2562.5 1182.5 L2489.5 1182.5 L2489.5 1141.5 L2512 1141.5 Z" fill="#e8382b" stroke="#8d9ba6" stroke-width="1"/>
<text x="2526" y="1172.3" class="axw" text-anchor="middle">06:37</text>
<circle cx="2552" cy="40" r="29.8" fill="#3c45a0" stroke="#a9a58f" stroke-width="0.8"/>
<polyline points="2531,51.5 2544.5,38 2555,48.5 2573.5,30.5" fill="none" stroke="#fff" stroke-width="2.4"/>
<polyline points="2564.5,30.3 2574,30.3 2574,39" fill="none" stroke="#fff" stroke-width="2.4"/>
<text x="2592.5" y="47.9" class="lg" textLength="79" lengthAdjust="spacingAndGlyphs">Charts</text>
<text x="2680.5" y="47.9" class="lg">powered by TradingView</text>
<clipPath id="chc"><rect x="88" y="40" width="36" height="19.8"/></clipPath>
<polyline clip-path="url(#chc)" points="88,40.4 106,58.6 124,40.4" fill="none" stroke="#434651" stroke-width="5.0" stroke-linecap="square" stroke-linejoin="miter"/>
<text x="222.3" y="60.8" class="tt" textLength="600.5" lengthAdjust="spacingAndGlyphs">BINANCE:BTCUSDT (15m) - Thu 15 Jun 23 15:00</text>
</svg>
</body></html>
